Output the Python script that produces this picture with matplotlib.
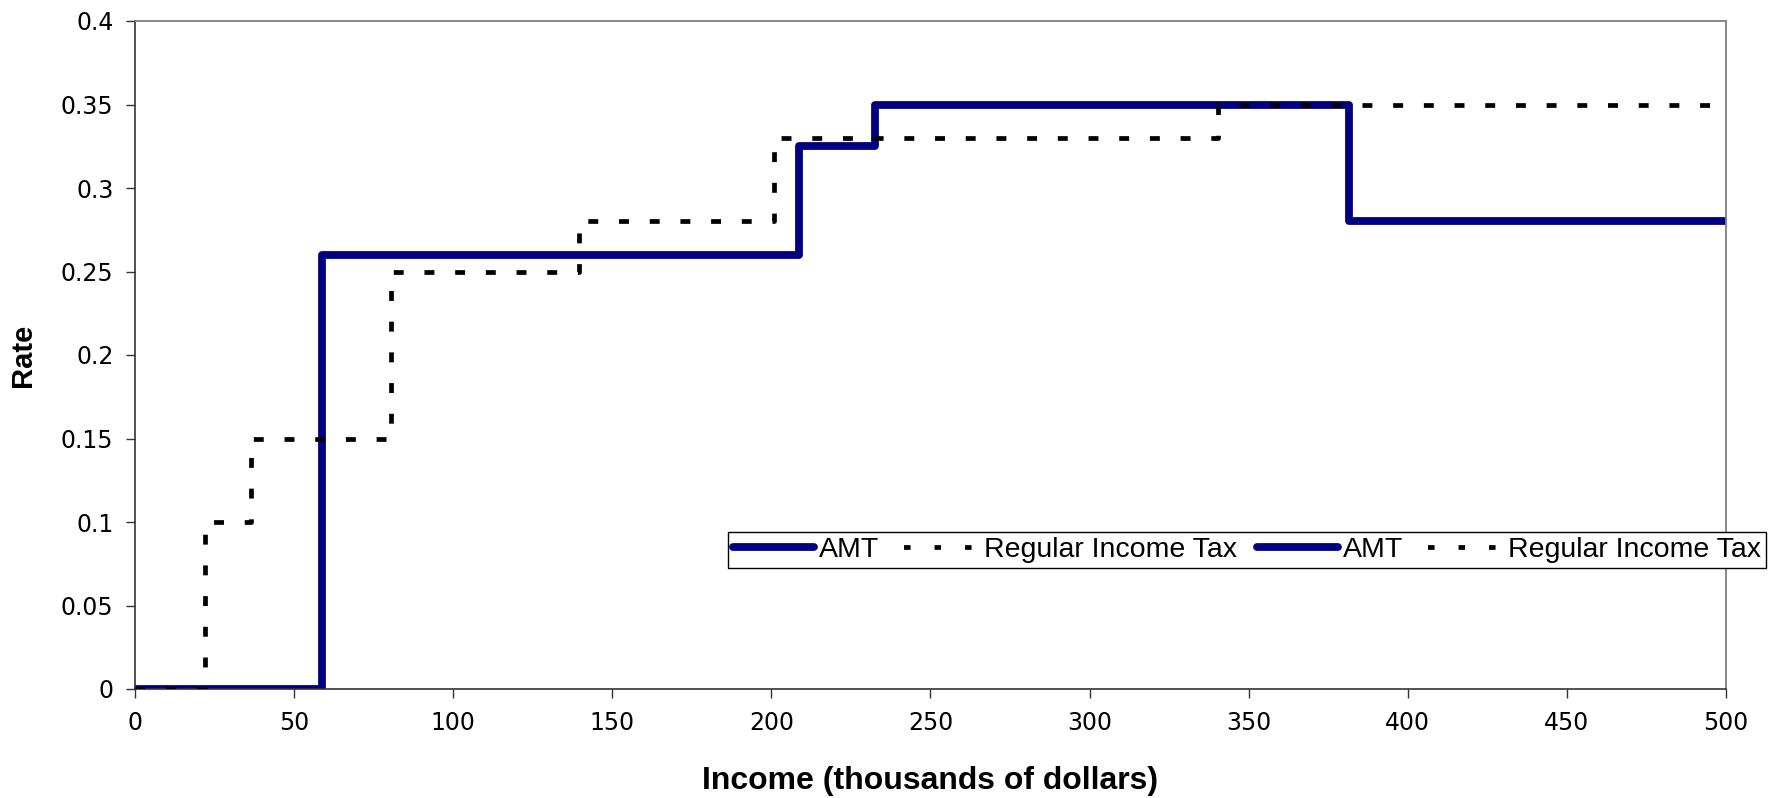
import matplotlib.pyplot as plt
from matplotlib.lines import Line2D

# bracket start points (thousands of dollars) and marginal rates
amt_edges = [0, 58.8, 208.6, 232.5, 381.6]
amt_rates = [0.0, 0.26, 0.325, 0.35, 0.28]
reg_edges = [0, 22.0, 36.5, 80.3, 139.4, 200.7, 340.5]
reg_rates = [0.0, 0.10, 0.15, 0.25, 0.28, 0.33, 0.35]
x_max = 500

x_ticks = list(range(0, 501, 50))
y_ticks = [0, 0.05, 0.1, 0.15, 0.2, 0.25, 0.3, 0.35, 0.4]
y_labels = ['0', '0.05', '0.1', '0.15', '0.2', '0.25', '0.3', '0.35', '0.4']

AMT_COLOR = '#000080'


def step_xy(edges, rates, end):
    xs = list(edges) + [end]
    ys = list(rates) + [rates[-1]]
    return xs, ys


fig = plt.figure(figsize=(17.81, 7.98), dpi=100)
ax = fig.add_axes([135 / 1781, 1 - 689 / 798, 1591 / 1781, 668 / 798])

xs, ys = step_xy(amt_edges, amt_rates, x_max)
ax.step(xs, ys, where='post', color=AMT_COLOR, lw=5.6,
        solid_joinstyle='round', solid_capstyle='butt', zorder=2)
xs, ys = step_xy(reg_edges, reg_rates, x_max)
ax.step(xs, ys, where='post', color='black', lw=3.4,
        dashes=(2.1, 4.4), dash_capstyle='butt', zorder=3)

ax.set_xlim(0, x_max)
ax.set_ylim(0, 0.4)
ax.set_xticks(x_ticks)
ax.set_yticks(y_ticks)
ax.set_yticklabels(y_labels)
ax.tick_params(direction='out', length=6.5, width=1, color='#333333',
               labelsize=17, pad=9)
for lab in ax.get_xticklabels() + ax.get_yticklabels():
    lab.set_fontfamily('DejaVu Sans')

for side in ['top', 'right']:
    ax.spines[side].set_color('#808080')
    ax.spines[side].set_linewidth(1.3)
for side in ['left', 'bottom']:
    ax.spines[side].set_color('#333333')
    ax.spines[side].set_linewidth(1.2)

ax.set_xlabel('Income (thousands of dollars)', fontsize=23, fontweight='bold',
              family='Liberation Sans', labelpad=23)
ax.set_ylabel('Rate', fontsize=21, fontweight='bold',
              family='Liberation Sans', labelpad=17)

# proxy handles so the legend keys look like the chart keys
amt_key = Line2D([], [], color=AMT_COLOR, lw=5.6, solid_capstyle='round')
reg_key = Line2D([], [], color='black', lw=3.4, linestyle=(5.5, (1.38, 5.08)),
                 dash_capstyle='butt')

leg = ax.legend([amt_key, reg_key, amt_key, reg_key],
                ['AMT', 'Regular Income Tax', 'AMT', 'Regular Income Tax'],
                ncol=4, loc='upper left',
                bbox_to_anchor=(728 / 1781, 1 - 532 / 798),
                bbox_transform=fig.transFigure,
                prop={'family': 'Liberation Sans', 'size': 20.5},
                frameon=True, fancybox=False, framealpha=1,
                edgecolor='black', handlelength=2.85, handletextpad=0.15,
                columnspacing=0.7, borderpad=0.18, borderaxespad=0)
leg.get_frame().set_linewidth(1.0)

fig.savefig('out.png', dpi=100)
